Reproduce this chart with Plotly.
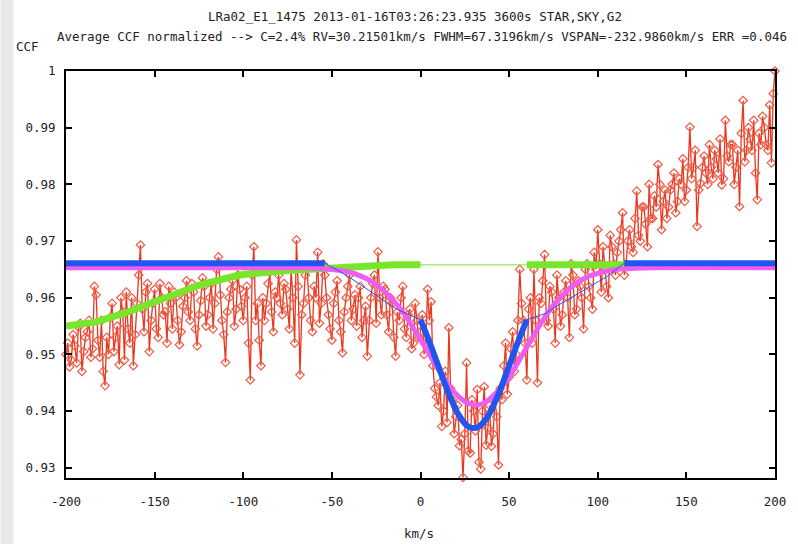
import plotly.graph_objects as go

# ---------------- data ----------------
# CCF samples at even velocities (-200 .. 200 step 2)
red_x_even = list(range(-200, 201, 2))
red_y_even = [
    0.9500, 0.9478, 0.9535, 0.9485, 0.9555, 0.9505, 0.9540, 0.9495, 0.9620, 0.9525,
    0.9560, 0.9445, 0.9500, 0.9590, 0.9530, 0.9482, 0.9575, 0.9610, 0.9520, 0.9480,
    0.9590, 0.9693, 0.9540, 0.9625, 0.9560, 0.9615, 0.9530, 0.9600, 0.9575, 0.9620,
    0.9545, 0.9600, 0.9517, 0.9585, 0.9630, 0.9560, 0.9610, 0.9515, 0.9595, 0.9620,
    0.9570, 0.9625, 0.9590, 0.9672, 0.9560, 0.9486, 0.9600, 0.9630, 0.9580, 0.9615,
    0.9560, 0.9620, 0.9455, 0.9690, 0.9590, 0.9480, 0.9560, 0.9625, 0.9575, 0.9610,
    0.9640, 0.9570, 0.9615, 0.9545, 0.9600, 0.9702, 0.9464, 0.9590, 0.9650, 0.9560,
    0.9620, 0.9680, 0.9590, 0.9640, 0.9570, 0.9525, 0.9610, 0.9560, 0.9503, 0.9600,
    0.9640, 0.9580, 0.9550, 0.9620, 0.9560, 0.9497, 0.9600, 0.9640, 0.9681, 0.9570,
    0.9615, 0.9540, 0.9590, 0.9497, 0.9560, 0.9620, 0.9530, 0.9580, 0.9520, 0.9560,
    0.9540, 0.9500, 0.9615, 0.9593, 0.9440, 0.9410, 0.9373, 0.9470, 0.9547, 0.9420,
    0.9390, 0.9339, 0.9283, 0.9485, 0.9326, 0.9400, 0.9438, 0.9298, 0.9443, 0.9370,
    0.9338, 0.9420, 0.9305, 0.9420, 0.9520, 0.9460, 0.9540, 0.9500, 0.9650, 0.9560,
    0.9455, 0.9600, 0.9650, 0.9450, 0.9590, 0.9676, 0.9550, 0.9610, 0.9520, 0.9600,
    0.9570, 0.9630, 0.9530, 0.9640, 0.9580, 0.9620, 0.9545, 0.9660, 0.9600, 0.9680,
    0.9720, 0.9610, 0.9650, 0.9600, 0.9690, 0.9640, 0.9700, 0.9750, 0.9660, 0.9720,
    0.9680, 0.9788, 0.9700, 0.9760, 0.9690, 0.9740, 0.9780, 0.9835, 0.9720, 0.9790,
    0.9760, 0.9800, 0.9750, 0.9810, 0.9845, 0.9790, 0.9901, 0.9830, 0.9726, 0.9802,
    0.9850, 0.9800, 0.9830, 0.9860, 0.9820, 0.9799, 0.9913, 0.9840, 0.9870, 0.9830,
    0.9761, 0.9948, 0.9860, 0.9880, 0.9913, 0.9773, 0.9870, 0.9900, 0.9860, 0.9838,
    1.0000,
]
# CCF samples at odd velocities (-199 .. 199 step 2)
red_x_odd = list(range(-199, 200, 2))
red_y_odd = [
    0.9520, 0.9490, 0.9515, 0.9548, 0.9470, 0.9530, 0.9560, 0.9510, 0.9605, 0.9495,
    0.9470, 0.9530, 0.9565, 0.9505, 0.9550, 0.9600, 0.9490, 0.9545, 0.9600, 0.9535,
    0.9640, 0.9580, 0.9610, 0.9505, 0.9590, 0.9545, 0.9625, 0.9570, 0.9520, 0.9590,
    0.9610, 0.9560, 0.9540, 0.9600, 0.9575, 0.9625, 0.9545, 0.9570, 0.9635, 0.9550,
    0.9600, 0.9545, 0.9650, 0.9605, 0.9535, 0.9575, 0.9615, 0.9550, 0.9640, 0.9585,
    0.9600, 0.9520, 0.9640, 0.9560, 0.9525, 0.9600, 0.9590, 0.9645, 0.9540, 0.9600,
    0.9590, 0.9625, 0.9580, 0.9650, 0.9520, 0.9620, 0.9570, 0.9640, 0.9600, 0.9540,
    0.9600, 0.9555, 0.9660, 0.9600, 0.9545, 0.9590, 0.9630, 0.9540, 0.9575, 0.9620,
    0.9560, 0.9605, 0.9600, 0.9530, 0.9585, 0.9560, 0.9625, 0.9555, 0.9600, 0.9620,
    0.9570, 0.9600, 0.9530, 0.9575, 0.9600, 0.9545, 0.9570, 0.9510, 0.9590, 0.9530,
    0.9570, 0.9520, 0.9560, 0.9480, 0.9425, 0.9450, 0.9400, 0.9380, 0.9440, 0.9360,
    0.9410, 0.9350, 0.9360, 0.9330, 0.9420, 0.9365, 0.9310, 0.9400, 0.9340, 0.9410,
    0.9360, 0.9390, 0.9440, 0.9480, 0.9430, 0.9510, 0.9470, 0.9560, 0.9590, 0.9520,
    0.9580, 0.9520, 0.9560, 0.9600, 0.9630, 0.9560, 0.9620, 0.9580, 0.9640, 0.9550,
    0.9610, 0.9600, 0.9660, 0.9570, 0.9630, 0.9600, 0.9650, 0.9620, 0.9580, 0.9650,
    0.9660, 0.9690, 0.9620, 0.9710, 0.9660, 0.9680, 0.9720, 0.9640, 0.9700, 0.9690,
    0.9740, 0.9710, 0.9760, 0.9730, 0.9800, 0.9740, 0.9760, 0.9800, 0.9770, 0.9740,
    0.9790, 0.9820, 0.9770, 0.9800, 0.9770, 0.9830, 0.9810, 0.9860, 0.9790, 0.9830,
    0.9820, 0.9870, 0.9810, 0.9845, 0.9880, 0.9810, 0.9850, 0.9870, 0.9800, 0.9860,
    0.9890, 0.9840, 0.9900, 0.9860, 0.9820, 0.9890, 0.9920, 0.9870, 0.9940, 0.9960,
]

green_x = [-200, -195, -190, -185, -180, -175, -170, -165, -160, -155, -150, -145,
           -140, -135, -130, -125, -120, -115, -110, -105, -100, -95, -90, -85, -80,
           -75, -70, -65, -60, -55, -50, -45, -40, -35, -30, -25, -20, -15, -10, -5, 0,
           60, 70, 80, 90, 100, 110, 115]
green_y = [0.9550, 0.9551, 0.9553, 0.9556, 0.9560, 0.9564, 0.9569, 0.9575, 0.9581,
           0.9587, 0.9594, 0.9601, 0.9607, 0.9613, 0.9618, 0.9622, 0.9626, 0.9631,
           0.9635, 0.9638, 0.9641, 0.9643, 0.9645, 0.9646, 0.9647, 0.9648, 0.9649,
           0.9650, 0.9651, 0.9652, 0.9654, 0.9655, 0.9656, 0.9657, 0.9657, 0.9658,
           0.9658, 0.9658, 0.9658, 0.9658, 0.9658,
           0.9658, 0.9658, 0.9658, 0.9658, 0.9658, 0.9658, 0.9658]

blue_x = [-200, -54, -41, -13,
          0, 2, 4, 6, 8, 10, 12, 14, 16, 18, 20, 22, 24, 26, 28, 30,
          32, 34, 36, 38, 40, 42, 44, 46, 48, 50, 52, 54, 56, 58, 60,
          71, 75, 105, 115, 200]
blue_y = [0.9661, 0.9661, 0.9638, 0.9579,
          0.9561, 0.9546, 0.9530, 0.9514, 0.9497, 0.9480, 0.9463, 0.9446, 0.9430,
          0.9416, 0.9402, 0.9391, 0.9382, 0.9375, 0.9371, 0.9370,
          0.9371, 0.9375, 0.9382, 0.9391, 0.9402, 0.9416, 0.9430, 0.9446, 0.9463,
          0.9480, 0.9497, 0.9514, 0.9530, 0.9546, 0.9561,
          0.9573, 0.9582, 0.9637, 0.9661, 0.9661]

magenta_x = [-200, -100, -70, -65, -60, -55, -50, -45, -40, -35, -30, -25, -20, -15,
             -10, -5, 0, 5, 10, 15, 20, 25, 30, 35, 40, 45, 50, 55, 60, 65, 70, 75,
             80, 85, 90, 95, 100, 105, 110, 115, 120, 130, 200]
magenta_y = [0.9653, 0.9653, 0.9653, 0.9653, 0.9652, 0.9651, 0.9650, 0.9648, 0.9645,
             0.9640, 0.9633, 0.9623, 0.9610, 0.9594, 0.9575, 0.9551, 0.9526, 0.9500,
             0.9474, 0.9450, 0.9430, 0.9417, 0.9411, 0.9413, 0.9424, 0.9440, 0.9460,
             0.9486, 0.9513, 0.9540, 0.9565, 0.9587, 0.9604, 0.9619, 0.9630, 0.9638,
             0.9643, 0.9647, 0.9650, 0.9651, 0.9652, 0.9653, 0.9653]

x_ticks = [-200, -150, -100, -50, 0, 50, 100, 150, 200]
x_ticklabels = ["-200", "-150", "-100", "-50", "0", "50", "100", "150", "200"]
y_ticks = [0.93, 0.94, 0.95, 0.96, 0.97, 0.98, 0.99, 1.0]
y_ticklabels = ["0.93", "0.94", "0.95", "0.96", "0.97", "0.98", "0.99", "1"]

title1 = "LRa02_E1_1475 2013-01-16T03:26:23.935 3600s STAR,SKY,G2"
title2 = ("Average CCF normalized --> C=2.4% RV=30.21501km/s FWHM=67.3196km/s "
          "VSPAN=-232.9860km/s ERR =0.046")

# ---------------- derived arrays ----------------
red_pts = sorted(zip(red_x_even + red_x_odd, red_y_even + red_y_odd))
red_x = [p[0] for p in red_pts]
red_y = [p[1] for p in red_pts]

green_thick_x, green_thick_y = [], []
for i, (gx, gy) in enumerate(zip(green_x, green_y)):
    if i > 0 and gx - green_x[i - 1] > 20:
        green_thick_x.append(None)
        green_thick_y.append(None)
    green_thick_x.append(gx)
    green_thick_y.append(gy)

blue_ranges = [(-200, -54), (0, 60), (115, 200)]
blue_thick_y = [by if any(a <= bx <= b for a, b in blue_ranges) else None
                for bx, by in zip(blue_x, blue_y)]

# ---------------- figure ----------------
W, H = 798, 544
L, R, T, B = 66, 17, 71, 66
PW, PH = W - L - R, H - T - B

def px(xp):
    return (xp - L) / PW

def py(yp):
    return (H - B - yp) / PH

FONT = "DejaVu Sans Mono"
fig = go.Figure()

fig.add_trace(go.Scatter(
    x=red_x, y=red_y, mode="lines+markers",
    line=dict(color="#e8361f", width=1.3),
    marker=dict(symbol="diamond-open", size=6.5, color="#f05a44", line=dict(width=1.2)),
    cliponaxis=False, showlegend=False))

fig.add_trace(go.Scatter(
    x=green_x, y=green_y, mode="lines",
    line=dict(color="#78e62a", width=1), showlegend=False))
fig.add_trace(go.Scatter(
    x=green_thick_x, y=green_thick_y, mode="lines", connectgaps=False,
    line=dict(color="#78e62a", width=7), showlegend=False))

fig.add_trace(go.Scatter(
    x=magenta_x, y=magenta_y, mode="lines", line_shape="spline",
    line=dict(color="#ee5cf0", width=5), showlegend=False))

fig.add_trace(go.Scatter(
    x=blue_x, y=blue_y, mode="lines",
    line=dict(color="#2255ee", width=1), showlegend=False))
fig.add_trace(go.Scatter(
    x=blue_x, y=blue_thick_y, mode="lines", connectgaps=False, line_shape="spline",
    line=dict(color="#2255ee", width=6), showlegend=False))

axis_common = dict(
    showline=True, linecolor="black", linewidth=2, mirror="ticks",
    ticks="inside", ticklen=6, tickwidth=2, tickcolor="black",
    showgrid=False, zeroline=False,
    tickfont=dict(family=FONT, size=12.5, color="#222"),
)

fig.update_layout(
    width=W, height=H,
    margin=dict(l=L, r=R, t=T, b=B),
    paper_bgcolor="white", plot_bgcolor="white",
    xaxis=dict(range=[-200, 200], tickvals=x_ticks, ticktext=x_ticklabels,
               ticklabelstandoff=11, **axis_common),
    yaxis=dict(range=[0.9282, 1.0], tickvals=y_ticks, ticktext=y_ticklabels,
               ticklabelstandoff=6, **axis_common),
    shapes=[dict(type="rect", xref="paper", yref="paper",
                 x0=px(0), x1=px(13), y0=py(H), y1=py(0),
                 fillcolor="#e9e9e9", line=dict(width=0), layer="below")],
    annotations=[
        dict(text=title1, xref="paper", yref="paper", x=px(418), y=py(17),
             showarrow=False, xanchor="center", yanchor="middle",
             font=dict(family=FONT, size=12.5, color="#222")),
        dict(text=title2, xref="paper", yref="paper", x=px(425), y=py(36),
             showarrow=False, xanchor="center", yanchor="middle",
             font=dict(family=FONT, size=12.5, color="#222")),
        dict(text="CCF", xref="paper", yref="paper", x=px(27), y=py(46),
             showarrow=False, xanchor="center", yanchor="middle",
             font=dict(family=FONT, size=12.5, color="#222")),
        dict(text="km/s", xref="paper", yref="paper", x=px(422), y=py(533),
             showarrow=False, xanchor="center", yanchor="middle",
             font=dict(family=FONT, size=12.5, color="#222")),
    ],
)

fig.write_html("out.html", config={"displayModeBar": False})
